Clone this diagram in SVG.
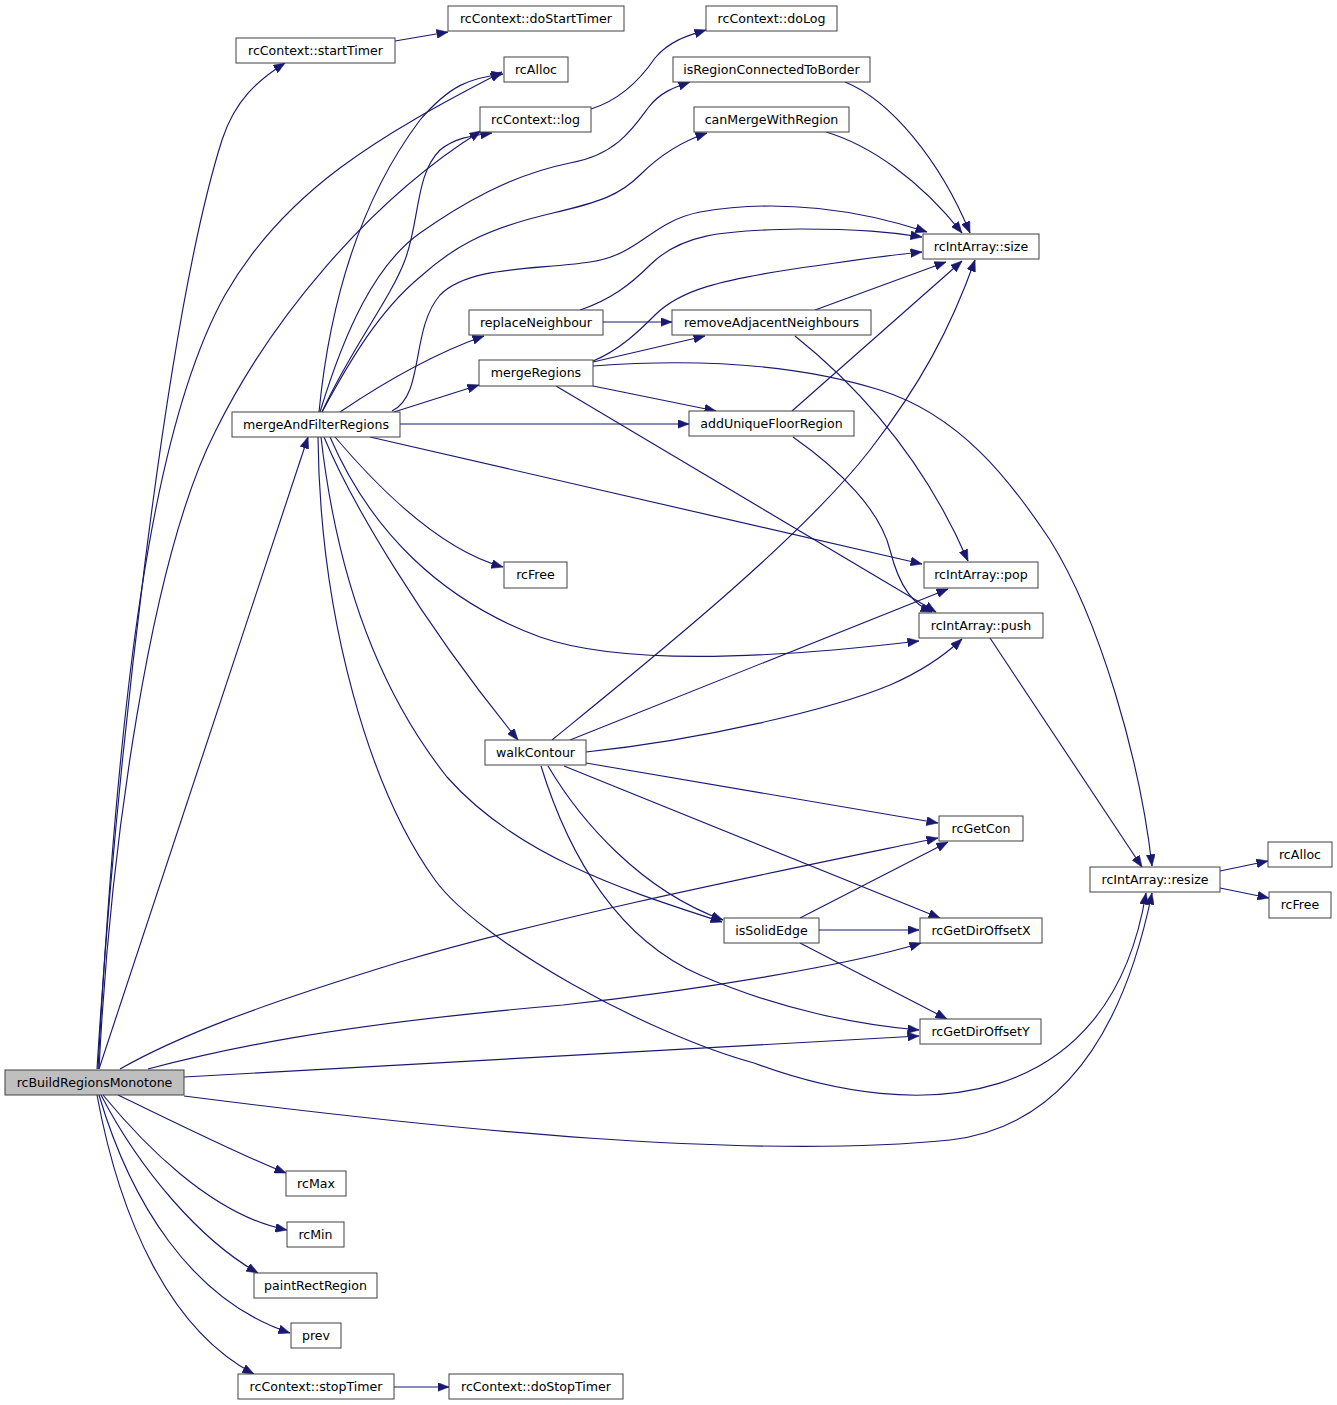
<svg xmlns="http://www.w3.org/2000/svg" width="1337" height="1405" viewBox="0 0 1337 1405">
<style>
.n rect{fill:#ffffff;stroke:#404040;stroke-width:1}
.n.root rect{fill:#bfbfbf}
.n text{font-family:"DejaVu Sans",sans-serif;font-size:12.6px;fill:#000;text-anchor:middle}
#edges path{fill:none;stroke:#191970;stroke-width:1.15;marker-end:url(#ah)}
</style>
<defs>
<marker id="ah" markerUnits="userSpaceOnUse" markerWidth="12" markerHeight="9" refX="11" refY="4.3" orient="auto" viewBox="0 0 11.5 8.6">
<path d="M0,0 L11,4.3 L0,8.6 z" fill="#191970" stroke="#191970" stroke-width="0.5"/>
</marker>
</defs>
<rect width="1337" height="1405" fill="#ffffff"/>
<g id="edges">
<path d="M97,1069 C115,780 165,320 222,140 C235,100 258,80 285,63"/>
<path d="M98,1069 C118,700 150,430 225,295 C285,190 380,135 502,72"/>
<path d="M99,1069 C110,850 150,560 215,432 C270,320 370,200 481,131"/>
<path d="M99,1069 L308,437"/>
<path d="M120,1069 C180,1035 260,1005 400,962 C560,915 760,875 938,838"/>
<path d="M148,1069 C220,1050 330,1025 563,1005 C700,990 850,965 921,943"/>
<path d="M184,1077 L919,1036"/>
<path d="M184,1096 C450,1130 750,1160 950,1140 C1080,1125 1130,1000 1152,893"/>
<path d="M118,1095 C170,1120 240,1155 286,1173"/>
<path d="M103,1095 C140,1140 210,1215 287,1230"/>
<path d="M101,1095 C140,1170 200,1240 258,1273"/>
<path d="M99,1095 C130,1200 190,1300 290,1333"/>
<path d="M97,1095 C120,1220 170,1330 254,1374"/>
<path d="M395,41 L448,32"/>
<path d="M394,1387 L449,1387"/>
<path d="M591,109 C620,100 640,80 655,58 C670,40 690,35 706,30"/>
<path d="M319,412 C330,300 360,200 420,120 C450,85 470,78 503,74"/>
<path d="M322,412 C350,350 390,300 405,260 C420,220 415,175 440,150 C455,138 470,136 492,133"/>
<path d="M320,412 C345,330 375,265 420,233 C460,205 510,175 570,163 C615,155 632,130 648,108 C660,92 675,87 690,82"/>
<path d="M322,412 C350,360 380,310 420,277 C450,250 480,230 553,213 C600,202 620,195 640,175 C660,155 680,142 707,133"/>
<path d="M392,411 C425,395 410,330 440,295 C470,265 540,270 590,262 C640,255 650,222 700,212 C780,198 860,210 927,232"/>
<path d="M340,412 C380,385 430,355 484,336"/>
<path d="M394,412 L479,385"/>
<path d="M400,424 L689,424"/>
<path d="M370,437 L922,564"/>
<path d="M335,437 C380,490 440,550 503,567"/>
<path d="M330,437 C370,530 440,600 540,637 C620,665 760,660 919,641"/>
<path d="M324,437 C350,500 420,620 518,740"/>
<path d="M321,437 C335,560 370,680 447,777 C520,860 640,895 722,922"/>
<path d="M318,437 C320,620 370,790 435,880 C480,942 650,1035 754,1063 C920,1125 1110,1112 1146,893"/>
<path d="M603,322 L672,322"/>
<path d="M580,310 C610,300 630,285 650,265 C680,235 720,230 800,229 C860,229 890,232 922,237"/>
<path d="M593,361 C620,350 640,330 655,315 C680,290 720,280 800,268 C850,261 880,256 922,252"/>
<path d="M593,362 L705,336"/>
<path d="M593,386 L716,411"/>
<path d="M556,386 L936,612"/>
<path d="M593,366 C700,358 800,365 880,390 C960,415 1010,480 1050,540 C1100,620 1140,760 1152,866"/>
<path d="M815,310 L946,262"/>
<path d="M795,336 C850,380 920,450 968,561"/>
<path d="M792,411 L962,261"/>
<path d="M793,437 C840,470 880,510 890,550 C900,590 915,605 932,612"/>
<path d="M845,82 C890,100 940,160 970,233"/>
<path d="M826,132 C870,145 920,180 962,233"/>
<path d="M552,740 C650,660 800,540 870,450 C920,385 950,330 975,260"/>
<path d="M570,740 L948,589"/>
<path d="M586,752 C700,740 830,710 890,685 C920,672 945,655 962,639"/>
<path d="M586,763 L938,823"/>
<path d="M564,766 L940,918"/>
<path d="M548,766 C580,820 640,890 723,920"/>
<path d="M541,766 C570,860 620,940 700,975 C780,1010 860,1025 919,1030"/>
<path d="M800,918 L948,842"/>
<path d="M819,930 L919,930"/>
<path d="M800,943 L947,1019"/>
<path d="M990,638 L1142,867"/>
<path d="M1220,871 L1268,861"/>
<path d="M1220,888 L1269,898"/>
</g>
<g id="rcBuildRegionsMonotone" class="n root"><rect x="5" y="1070" width="179" height="25"/><text x="94.5" y="1087">rcBuildRegionsMonotone</text></g>
<g id="startTimer" class="n"><rect x="236" y="38" width="159" height="25"/><text x="315.5" y="55">rcContext::startTimer</text></g>
<g id="doStartTimer" class="n"><rect x="448" y="6" width="176" height="25"/><text x="536" y="23">rcContext::doStartTimer</text></g>
<g id="doLog" class="n"><rect x="706" y="6" width="131" height="25"/><text x="771.5" y="23">rcContext::doLog</text></g>
<g id="rcAlloc1" class="n"><rect x="504" y="57" width="64" height="25"/><text x="536" y="74">rcAlloc</text></g>
<g id="isRegionConnectedToBorder" class="n"><rect x="673" y="57" width="197" height="25"/><text x="771.5" y="74">isRegionConnectedToBorder</text></g>
<g id="log" class="n"><rect x="480" y="107" width="111" height="25"/><text x="535.5" y="124">rcContext::log</text></g>
<g id="canMergeWithRegion" class="n"><rect x="694" y="107" width="155" height="25"/><text x="771.5" y="124">canMergeWithRegion</text></g>
<g id="size" class="n"><rect x="923" y="234" width="116" height="25"/><text x="981" y="251">rcIntArray::size</text></g>
<g id="replaceNeighbour" class="n"><rect x="469" y="310" width="134" height="25"/><text x="536" y="327">replaceNeighbour</text></g>
<g id="removeAdjacentNeighbours" class="n"><rect x="672" y="310" width="199" height="25"/><text x="771.5" y="327">removeAdjacentNeighbours</text></g>
<g id="mergeRegions" class="n"><rect x="479" y="360" width="114" height="26"/><text x="536" y="377">mergeRegions</text></g>
<g id="addUniqueFloorRegion" class="n"><rect x="689" y="411" width="165" height="25"/><text x="771.5" y="428">addUniqueFloorRegion</text></g>
<g id="mergeAndFilterRegions" class="n"><rect x="232" y="412" width="168" height="25"/><text x="316" y="429">mergeAndFilterRegions</text></g>
<g id="rcFree1" class="n"><rect x="504" y="562" width="63" height="26"/><text x="535.5" y="579">rcFree</text></g>
<g id="pop" class="n"><rect x="924" y="562" width="114" height="26"/><text x="981" y="579">rcIntArray::pop</text></g>
<g id="push" class="n"><rect x="919" y="613" width="124" height="25"/><text x="981" y="630">rcIntArray::push</text></g>
<g id="walkContour" class="n"><rect x="485" y="740" width="101" height="25"/><text x="535.5" y="757">walkContour</text></g>
<g id="rcGetCon" class="n"><rect x="939" y="816" width="84" height="25"/><text x="981" y="833">rcGetCon</text></g>
<g id="isSolidEdge" class="n"><rect x="724" y="918" width="95" height="25"/><text x="771.5" y="935">isSolidEdge</text></g>
<g id="rcGetDirOffsetX" class="n"><rect x="920" y="918" width="122" height="25"/><text x="981" y="935">rcGetDirOffsetX</text></g>
<g id="rcGetDirOffsetY" class="n"><rect x="920" y="1019" width="121" height="25"/><text x="980.5" y="1036">rcGetDirOffsetY</text></g>
<g id="resize" class="n"><rect x="1090" y="867" width="130" height="25"/><text x="1155" y="884">rcIntArray::resize</text></g>
<g id="rcAlloc2" class="n"><rect x="1268" y="842" width="64" height="25"/><text x="1300" y="859">rcAlloc</text></g>
<g id="rcFree2" class="n"><rect x="1269" y="892" width="62" height="26"/><text x="1300" y="909">rcFree</text></g>
<g id="rcMax" class="n"><rect x="286" y="1171" width="60" height="25"/><text x="316" y="1188">rcMax</text></g>
<g id="rcMin" class="n"><rect x="287" y="1222" width="57" height="25"/><text x="315.5" y="1239">rcMin</text></g>
<g id="paintRectRegion" class="n"><rect x="254" y="1273" width="123" height="25"/><text x="315.5" y="1290">paintRectRegion</text></g>
<g id="prev" class="n"><rect x="291" y="1323" width="50" height="25"/><text x="316" y="1340">prev</text></g>
<g id="stopTimer" class="n"><rect x="238" y="1374" width="156" height="25"/><text x="316" y="1391">rcContext::stopTimer</text></g>
<g id="doStopTimer" class="n"><rect x="449" y="1374" width="174" height="25"/><text x="536" y="1391">rcContext::doStopTimer</text></g>
</svg>
